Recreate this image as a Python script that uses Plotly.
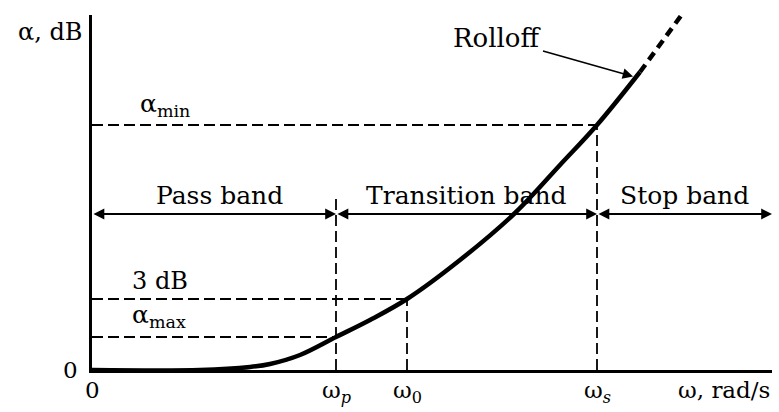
import plotly.graph_objects as go

# Characteristic frequencies (ω axis) and attenuation levels (α axis), arbitrary units
W_P = 2.44      # pass-band edge ωp
W_0 = 3.15      # 3 dB frequency ω0
W_S = 5.05      # stop-band edge ωs
X_MAX = 6.80

A_MAX = 0.33    # αmax
A_3DB = 0.71    # 3 dB level
BAND_Y = 1.56   # height of the band arrows
A_MIN = 2.45    # αmin
Y_MAX = 3.55

# Attenuation curve (solid part) and its rolloff extension (dashed part)
curve_w = [0.00, 1.08, 1.58, 1.78, 2.08, 2.44, 2.78, 3.15, 3.68, 4.23, 4.68, 5.05, 5.48]
curve_a = [0.00, 0.00, 0.03, 0.06, 0.15, 0.33, 0.50, 0.71, 1.10, 1.57, 2.05, 2.45, 2.98]
ext_w = [5.48, 5.91]
ext_a = [2.98, 3.57]

band_edges = [0.0, W_P, W_S, X_MAX]
band_labels = ["Pass band", "Transition band", "Stop band"]
band_label_x = [1.27, 3.74, 5.92]

x_tick_vals = [0.0, W_P, W_0, W_S]
x_tick_text = ["0", "ω<sub><i>p</i></sub>", "ω<sub>0</sub>", "ω<sub><i>s</i></sub>"]

FONT = "DejaVu Serif"
DASH = "11px,5px"

fig = go.Figure()

def dashed(xs, ys, width=1.8):
    fig.add_trace(go.Scatter(x=xs, y=ys, mode="lines", hoverinfo="skip",
                             line=dict(color="black", width=width, dash=DASH)))

# Reference levels and frequency markers
dashed([0, W_S], [A_MIN, A_MIN])
dashed([W_S, W_S], [0, A_MIN])
dashed([0, W_0], [A_3DB, A_3DB])
dashed([W_0, W_0], [0, A_3DB])
dashed([0, W_P], [A_MAX, A_MAX])
dashed([W_P, W_P], [0, 1.74])

# Attenuation curve
fig.add_trace(go.Scatter(x=curve_w, y=curve_a, mode="lines", hoverinfo="skip",
                         line=dict(color="black", width=4.5, shape="spline", smoothing=1.0)))
fig.add_trace(go.Scatter(x=ext_w, y=ext_a, mode="lines", hoverinfo="skip", cliponaxis=False,
                         line=dict(color="black", width=4.5, dash="9px,6px")))

annotations = []

# Double-headed band arrows with their labels
for i, label in enumerate(band_labels):
    annotations.append(dict(x=band_edges[i + 1], y=BAND_Y, ax=band_edges[i], ay=BAND_Y,
                            xref="x", yref="y", axref="x", ayref="y", text="",
                            showarrow=True, arrowside="end+start", arrowhead=2,
                            arrowsize=1.2, arrowwidth=1.8, arrowcolor="black"))
    annotations.append(dict(x=band_label_x[i], y=BAND_Y, xref="x", yref="y", text=label,
                            showarrow=False, yanchor="bottom", yshift=2,
                            font=dict(family=FONT, size=25, color="black")))

# Rolloff pointer
annotations.append(dict(x=5.43, y=2.93, xref="x", yref="y", text="Rolloff",
                        showarrow=True, ax=-138, ay=-39, arrowhead=2, arrowsize=1.3,
                        arrowwidth=1.6, arrowcolor="black", standoff=2,
                        font=dict(family=FONT, size=26, color="black")))

# Level labels
annotations.append(dict(x=0.46, y=A_MIN, xref="x", yref="y", text="α<sub>min</sub>",
                        showarrow=False, xanchor="left", yanchor="bottom", yshift=2,
                        font=dict(family=FONT, size=25, color="black")))
annotations.append(dict(x=0.38, y=A_3DB, xref="x", yref="y", text="3 dB",
                        showarrow=False, xanchor="left", yanchor="bottom", yshift=2,
                        font=dict(family=FONT, size=24, color="black")))
annotations.append(dict(x=0.38, y=A_MAX, xref="x", yref="y", text="α<sub>max</sub>",
                        showarrow=False, xanchor="left", yanchor="bottom", yshift=3,
                        font=dict(family=FONT, size=25, color="black")))

# Axis labels
annotations.append(dict(x=0, y=Y_MAX, xref="x", yref="y", text="α, dB",
                        showarrow=False, xanchor="right", yanchor="top", xshift=-8, yshift=-1,
                        font=dict(family=FONT, size=24, color="black")))
annotations.append(dict(x=X_MAX, y=0, xref="x", yref="y", text="ω, rad/s",
                        showarrow=False, xanchor="right", yanchor="top", yshift=-5,
                        font=dict(family=FONT, size=23, color="black")))
annotations.append(dict(x=0, y=0, xref="x", yref="y", text="0",
                        showarrow=False, xanchor="right", yanchor="middle", xshift=-12,
                        font=dict(family=FONT, size=23, color="black")))
for xv, txt in zip(x_tick_vals, x_tick_text):
    annotations.append(dict(x=xv, y=0, xref="x", yref="y", text=txt,
                            showarrow=False, xanchor="center", yanchor="top", yshift=-5,
                            font=dict(family=FONT, size=23, color="black")))

fig.update_layout(
    width=779, height=412,
    margin=dict(l=92, r=7, t=15, b=42),
    paper_bgcolor="white", plot_bgcolor="white",
    showlegend=False,
    annotations=annotations,
    xaxis=dict(range=[0, X_MAX], showgrid=False, zeroline=False, showticklabels=False,
               ticks="", showline=True, linecolor="black", linewidth=3, fixedrange=True),
    yaxis=dict(range=[0, Y_MAX], showgrid=False, zeroline=False, showticklabels=False,
               ticks="", showline=True, linecolor="black", linewidth=3, fixedrange=True),
)

fig.write_html("out.html")
